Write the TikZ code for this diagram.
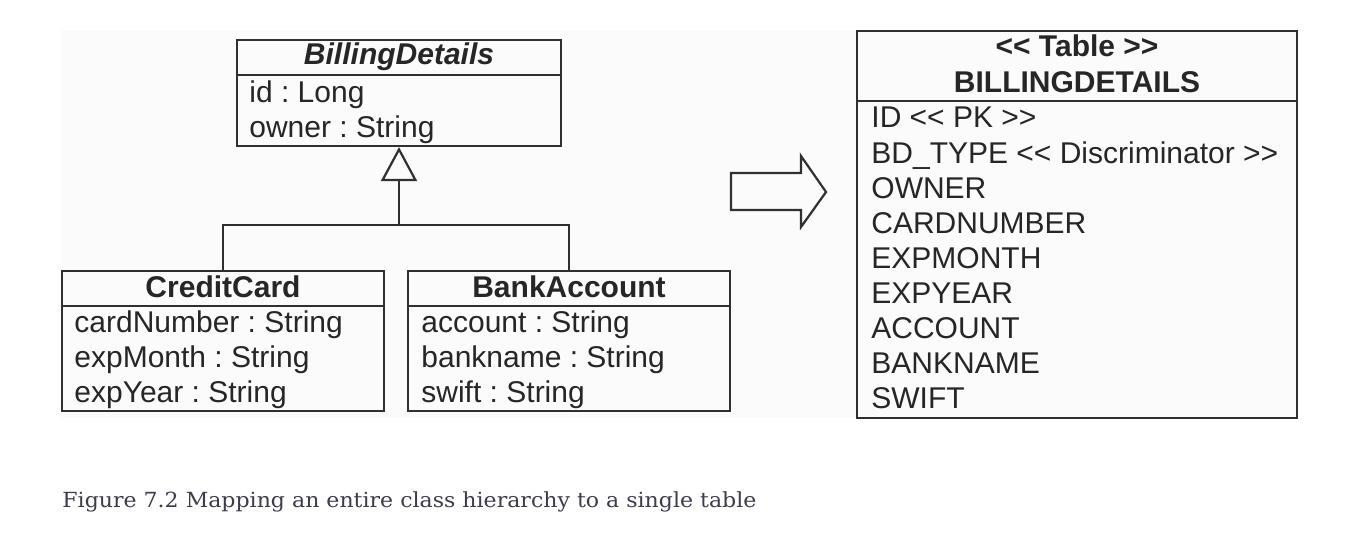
\documentclass[tikz,border=0pt]{standalone}
\usepackage{fontspec}
\usepackage{graphicx}
\setmainfont{Liberation Sans}
\newfontfamily\capfont{DejaVu Serif}
\usetikzlibrary{arrows.meta}
\definecolor{ln}{HTML}{303030}
\definecolor{tx}{HTML}{262626}
\definecolor{bg}{HTML}{FBFBFB}
\definecolor{capc}{HTML}{3C3C4B}
\newcommand\dlt{<\kern0pt<}
\newcommand\dgt{>\kern0pt>}
\frenchspacing
\begin{document}
\begin{tikzpicture}[x=0.5pt,y=-0.5pt,
  box/.style={draw=ln, line width=1.1pt, rectangle, inner sep=0pt},
  sepline/.style={draw=ln, line width=1.1pt},
  attr/.style={anchor=base west, inner sep=0pt, text=tx, font=\fontsize{15pt}{18pt}\selectfont},
  hdr/.style={anchor=base, inner sep=0pt, text=tx, font=\fontsize{15pt}{18pt}\selectfont\bfseries},
  conn/.style={draw=ln, line width=1.1pt}
]
\useasboundingbox (0,0) rectangle (1368,540);
\fill[bg] (61,30) rectangle (1297,418);

% BillingDetails
\node[box, minimum width=162pt, minimum height=53pt] (bd) at (399,93) {};
\draw[sepline] (bd.west |- 0,75) -- (bd.east |- 0,75);
\node[hdr, font=\fontsize{15pt}{18pt}\selectfont\bfseries\itshape] (bdh) at (399,65) {BillingDetails};
\node[attr] (bd1) at (249,103) {id : Long};
\node[attr] (bd2) at (249,137) {owner : String};

% CreditCard
\node[box, minimum width=161pt, minimum height=70pt] (cc) at (223,341) {};
\draw[sepline] (cc.west |- 0,306) -- (cc.east |- 0,306);
\node[hdr] (cch) at (223,297) {CreditCard};
\node[attr] (cc1) at (74,332) {cardNumber : String};
\node[attr] (cc2) at (74,367) {expMonth : String};
\node[attr] (cc3) at (74,402) {expYear : String};

% BankAccount
\node[box, minimum width=161pt, minimum height=70pt] (ba) at (569,341) {};
\draw[sepline] (ba.west |- 0,306) -- (ba.east |- 0,306);
\node[hdr] (bah) at (569,297) {BankAccount};
\node[attr] (ba1) at (421,332) {account : String};
\node[attr] (ba2) at (421,367) {bankname : String};
\node[attr] (ba3) at (421,402) {swift : String};

% generalization
\coordinate (j) at (399,225);
\draw[conn] (cc.north) |- (j) -| (ba.north);
\draw[conn, -{Triangle[open, length=17pt, width=18pt, line width=1.1pt]}] (j) -- (bd.south);

% block arrow
\draw[conn, line join=miter] (731,173) -- (801,173) -- (801,156) -- (826,192) -- (801,227) -- (801,210) -- (731,210) -- cycle;

% Table
\node[box, minimum width=220pt, minimum height=193.5pt] (tb) at (1077,224.5) {};
\draw[sepline] (tb.west |- 0,101) -- (tb.east |- 0,101);
\node[hdr] (tbs) at (1077,57) {\dlt{} Table \dgt};
\node[hdr] (tbh) at (1077,92) {BILLINGDETAILS};
\node[attr] (t1) at (871,127) {ID \dlt{} PK \dgt};
\node[attr] (t2) at (871,163) {BD\_TYPE \dlt{} Discriminator \dgt};
\node[attr] (t3) at (871,198) {OWNER};
\node[attr] (t4) at (871,233) {CARDNUMBER};
\node[attr] (t5) at (871,268) {EXPMONTH};
\node[attr] (t6) at (871,303) {EXPYEAR};
\node[attr] (t7) at (871,338) {ACCOUNT};
\node[attr] (t8) at (871,373) {BANKNAME};
\node[attr] (t9) at (871,408) {SWIFT};

% caption
\node[anchor=base west, inner sep=0pt, text=capc] (caption) at (62,507)
  {\resizebox{347pt}{\height}{\capfont\fontsize{10.4pt}{13pt}\selectfont Figure 7.2 Mapping an entire class hierarchy to a single table}};
\end{tikzpicture}
\end{document}
